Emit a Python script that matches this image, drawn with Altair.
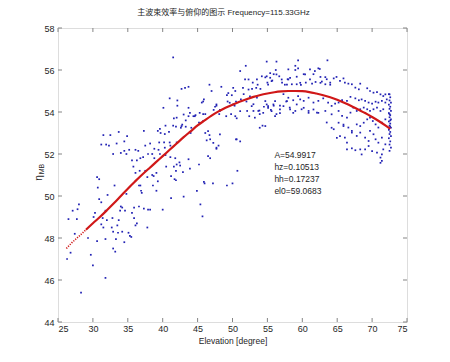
import altair as alt
import pandas as pd

# ---- scatter data (elevation [deg], main-beam efficiency) ----
el = [31.5, 32.5, 33.7, 34.9, 31.2, 31.9, 32.3, 33.4, 34.5, 32.9, 34.0, 34.5, 35.2, 34.8, 36.1, 37.3, 36.5, 37.5,
      38.2, 39.3, 39.6, 40.4, 41.5, 41.9, 39.7, 40.3, 40.9, 39.5, 40.2, 41.0, 38.8, 39.4, 40.3, 41.1, 42.0, 35.6,
      36.3, 35.8, 36.8, 37.2, 37.9, 38.5, 38.8, 39.6, 40.4, 41.1, 41.8, 36.1, 36.7, 37.5, 37.8, 38.5, 38.7, 39.1,
      39.3, 40.5, 41.6, 41.9, 41.2, 41.7, 30.6, 30.9, 30.7, 32.1, 33.1, 30.9, 31.2, 31.8, 34.8, 36.6, 36.8, 36.9,
      37.0, 38.6, 39.1, 41.2, 34.0, 33.9, 34.2, 34.6, 35.9, 36.6, 37.3, 38.2, 40.0, 26.5, 27.1, 27.7, 28.0, 30.3,
      30.1, 31.4, 31.2, 32.0, 32.8, 33.7, 32.7, 33.5, 36.1, 36.3, 35.9, 35.6, 37.8, 31.5, 29.3, 30.6, 32.9, 33.6,
      34.2, 35.1, 35.3, 35.5, 34.5, 33.3, 31.8, 27.4, 26.8, 26.3, 29.7, 30.0, 32.9, 33.2, 31.8, 28.3, 27.8,
      43.0, 44.9, 45.4, 45.7, 45.9, 47.2, 49.2, 50.0, 37.9, 40.1,
      41.5, 41.0, 42.1, 42.1, 41.6, 42.6, 42.8, 43.3, 43.3, 43.7, 44.1, 44.0, 42.7, 43.2, 43.7, 44.4, 44.7, 45.2,
      45.6, 45.9, 45.8, 46.1, 46.7, 47.0, 47.3, 47.5, 47.7, 48.1, 48.2, 48.4, 49.1, 49.3, 49.4, 49.8, 50.1, 50.3,
      50.5, 50.6, 51.1, 51.2, 51.5, 51.6, 51.8, 51.9, 52.3, 52.8, 52.5, 52.1, 52.4, 53.0, 53.4, 53.6, 53.9, 54.0,
      54.3, 54.5, 54.7, 54.9, 55.0, 55.1, 55.4, 55.5, 55.7, 55.9, 56.2, 56.3, 56.7, 56.1, 56.8, 57.1, 57.3, 57.8,
      58.0, 57.7, 56.8, 42.0, 42.4, 42.5, 41.9, 42.9, 43.7, 43.9, 45.2, 46.0, 46.1, 46.3, 46.7, 46.5, 46.8, 47.7,
      48.0, 50.5, 51.1, 50.7,
      49.2, 49.9, 50.4, 52.3, 52.9, 53.5, 54.2, 55.4, 55.9, 55.1, 47.7, 48.2, 49.6, 50.1, 52.0, 52.75, 53.5, 53.85,
      54.4, 54.9, 55.6, 56.1, 56.3, 45.8, 43.7, 43.9, 44.6, 43.0, 42.0, 42.7, 45.3, 45.8, 46.5, 46.8, 47.25, 47.7,
      48.2, 50.6, 50.4, 51.1, 53.2, 53.9, 54.7,
      58.0, 59.4, 59.2, 60.2, 61.1, 61.6, 62.3, 62.6, 57.9, 58.5, 59.2, 59.8, 60.5, 61.4, 61.9, 62.8, 63.3, 63.5,
      64.0, 64.5, 64.9, 65.4, 65.9, 66.1, 66.6, 67.1, 67.6, 68.1, 68.3, 69.3, 69.7, 70.2, 70.7, 71.2, 71.6, 71.9,
      72.1, 72.5, 58.0, 58.7, 59.4, 60.2, 60.9, 61.6, 62.3, 63.0, 63.7, 64.2, 64.7, 65.2, 65.7, 66.4, 66.9, 67.6,
      68.1, 68.5, 69.0, 69.5, 70.0, 70.5, 70.9, 71.4, 71.9, 58.2, 59.0, 59.9, 60.9, 62.1, 63.3, 64.2, 65.2, 65.7,
      66.4, 66.9, 67.3, 67.8, 68.3, 68.8, 69.3, 69.7, 70.2, 70.7, 71.2, 71.6, 65.2, 65.9, 66.6, 67.1, 67.8, 68.3,
      68.8, 69.3, 69.7, 70.1, 70.5, 70.9, 71.4, 71.9, 66.1, 66.4, 67.1, 67.8, 68.3, 69.0, 69.5, 69.7, 70.2, 70.5,
      70.9, 71.4, 71.9, 71.6, 71.2, 70.7, 70.0, 69.0, 68.3, 67.6, 67.1, 71.4, 69.5,
      59.4, 63.6, 59.0, 62.5, 64.5, 65.9,
      53.0, 53.7, 54.7, 55.1, 55.86, 56.8, 57.3, 57.8, 58.25, 58.7, 59.2, 59.7, 60.2, 60.9, 61.6, 62.3,
      54.9, 55.6, 56.3, 57.05, 57.5, 58.25, 59.0, 59.7, 60.4, 61.1, 61.8, 62.6, 63.3, 64.0,
      63.5, 64.2, 64.95, 65.4, 66.4, 68.5, 71.2, 71.4,
      72.4, 72.6, 72.5, 72.7, 72.4, 72.6, 72.5, 72.7, 72.4, 72.6, 72.5, 72.7, 72.4, 72.6, 72.5, 72.7, 72.4, 72.6,
      72.5, 72.7, 72.4, 72.6, 72.5, 72.7, 72.5, 72.6, 72.5, 72.6]
eta = [52.9, 52.9, 53.05, 52.85, 52.45, 52.45, 52.4, 52.5, 52.6, 52.0, 52.05, 52.15, 52.2, 52.0, 52.2, 53.1, 52.15,
       52.4, 52.5, 53.1, 53.2, 53.35, 53.35, 53.3, 53.0, 52.95, 53.05, 52.55, 52.55, 52.55, 52.25, 52.2, 52.3, 52.4,
       52.55, 51.7, 51.7, 51.4, 51.8, 51.85, 52.0, 52.0, 51.8, 52.0, 51.95, 51.85, 51.8, 51.1, 51.2, 51.2, 50.9,
       51.0, 50.95, 51.1, 50.7, 51.4, 51.4, 51.2, 50.95, 50.8, 50.9, 50.8, 50.4, 50.05, 50.5, 49.85, 49.7, 49.3,
       50.1, 50.5, 50.5, 50.25, 50.15, 50.5, 50.25, 49.9, 49.5, 49.3, 49.45, 49.3, 49.45, 49.5, 49.4, 49.35, 49.35,
       48.9, 49.3, 48.9, 49.6, 49.2, 49.0, 48.95, 48.65, 48.85, 48.95, 48.85, 48.5, 48.6, 48.6, 48.7, 48.95, 49.2,
       48.5, 48.5, 48.0, 47.85, 48.3, 48.25, 48.3, 48.25, 48.1, 48.05, 47.8, 47.95, 47.95, 48.2, 47.3, 47.0, 47.2,
       46.7, 47.5, 47.35, 46.1, 45.4, 49.37,
       49.97, 50.24, 49.6, 49.03, 50.67, 50.6, 50.5, 50.6, 49.35, 54.2,
       56.6, 54.65, 54.55, 54.3, 53.7, 53.25, 53.4, 53.3, 53.6, 53.8, 53.25, 53.0, 55.1, 55.15, 55.2, 53.8, 53.85,
       53.5, 54.45, 54.6, 53.9, 53.9, 55.3, 55.0, 54.1, 54.25, 54.3, 53.9, 54.05, 55.2, 53.8, 54.5, 54.9, 53.9,
       55.15, 54.3, 54.5, 53.7, 55.95, 54.6, 55.15, 54.85, 55.55, 56.2, 55.55, 55.1, 54.75, 54.05, 53.8, 54.05,
       55.15, 55.3, 53.9, 55.1, 53.35, 54.25, 55.65, 56.4, 55.4, 54.2, 55.85, 54.1, 55.5, 54.3, 56.0, 56.4, 55.7,
       53.8, 54.3, 55.4, 54.85, 55.3, 55.55, 54.5, 53.95, 51.5, 51.6, 51.45, 50.75, 51.14, 51.75, 51.3, 51.5, 50.6,
       53.0, 52.65, 52.9, 51.9, 51.8, 52.25, 52.4, 52.7, 52.6, 51.2,
       54.8, 54.8, 55.0, 55.07, 55.4, 55.55, 55.7, 55.63, 55.8, 55.3, 54.36, 54.1, 54.44, 54.36, 54.5, 54.28, 54.68,
       54.07, 53.96, 54.36, 54.04, 54.52, 53.9, 54.5, 54.2, 53.96, 53.8, 53.88, 53.73, 53.33, 53.96, 53.57, 53.09,
       52.7, 52.53, 52.3, 52.93, 52.7, 53.8, 54.04, 53.73, 53.25, 53.33,
       56.03, 56.08, 55.68, 55.8, 56.03, 55.8, 56.08, 55.67, 55.56, 55.32, 55.32, 55.29, 55.4, 55.35, 55.43, 55.45,
       55.32, 55.56, 55.4, 55.6, 55.67, 55.48, 55.6, 55.4, 55.35, 55.32, 55.16, 55.08, 55.35, 55.13, 55.0, 54.92,
       54.95, 54.84, 54.76, 54.84, 54.6, 54.84, 54.68, 54.56, 54.76, 54.53, 54.68, 54.45, 54.53, 54.65, 54.45,
       54.29, 54.4, 54.45, 54.56, 54.53, 54.72, 54.65, 54.56, 54.6, 54.53, 54.45, 54.4, 54.49, 54.45, 54.53, 54.45,
       54.21, 54.05, 54.13, 54.05, 53.97, 54.05, 53.89, 54.05, 53.81, 53.73, 53.97, 54.21, 54.05, 54.13, 54.21,
       54.13, 54.05, 54.13, 54.21, 54.05, 54.13, 53.49, 53.33, 53.26, 53.1, 53.41, 53.33, 53.49, 53.65, 53.73,
       53.57, 53.41, 53.26, 53.49, 53.65, 52.78, 52.54, 53.02, 52.86, 53.02, 52.78, 52.62, 53.1, 52.94, 52.7, 52.54,
       52.78, 52.46, 52.22, 51.83, 52.06, 52.14, 52.22, 52.22, 52.18, 52.27, 51.67, 52.38,
       56.46, 56.46, 56.2, 56.05, 53.18, 53.4,
       54.37, 54.05, 54.52, 54.28, 54.36, 54.12, 54.28, 54.52, 54.12, 53.96, 54.36, 54.6, 54.2, 53.96, 54.12, 53.96,
       55.7, 55.47, 55.79, 55.55, 55.3, 55.63, 56.0, 55.39, 55.79, 55.55, 55.95, 55.39, 55.66, 55.3,
       53.5, 53.25, 52.77, 52.85, 52.22, 51.98, 51.58, 51.98,
       54.85, 54.7, 54.55, 54.45, 54.35, 54.25, 54.15, 54.05, 53.95, 53.85, 53.75, 53.65, 53.55, 53.45, 53.35,
       53.25, 53.15, 53.05, 52.95, 52.85, 52.75, 52.6, 52.45, 52.3, 52.15, 53.6, 53.9, 53.3]

# ---- fitted curve ----
curve_el = [26.2, 27, 28, 29, 30, 31, 32, 33, 34, 35, 36, 37, 38, 39, 40, 41, 42, 43, 44, 45, 46, 47, 48, 49, 50,
            51, 52, 53, 54, 55, 56, 57, 58, 59, 60, 61, 62, 63, 64, 65, 66, 67, 68, 69, 70, 71, 72, 72.6]
curve_eta = [47.5, 47.78, 48.08, 48.39, 48.7, 49.0, 49.32, 49.65, 50.0, 50.35, 50.68, 51.0, 51.3, 51.6, 51.9, 52.2,
             52.5, 52.8, 53.08, 53.36, 53.6, 53.83, 54.03, 54.2, 54.35, 54.49, 54.61, 54.72, 54.81, 54.88, 54.94,
             54.98, 55.0, 55.0, 54.99, 54.95, 54.88, 54.8, 54.7, 54.58, 54.44, 54.29, 54.12, 53.95, 53.76, 53.56,
             53.34, 53.2]

x_ticks = [25, 30, 35, 40, 45, 50, 55, 60, 65, 70, 75]
y_ticks = [44, 46, 48, 50, 52, 54, 56, 58]

fit_labels = ["A=54.9917", "hz=0.10513", "hh=0.17237", "el0=59.0683"]
fit_label_el = [56.0, 56.0, 56.0, 56.0]
fit_label_eta = [51.95, 51.38, 50.81, 50.24]

title_text = "主波束效率与俯仰的图示 Frequency=115.33GHz"
x_title = "Elevation [degree]"

W, H = 349, 294
FONT = "Liberation Sans, Arial, Noto Sans CJK SC"
GRAY = "#858585"
TXT = "#262626"

pts_df = pd.DataFrame({"el": el, "eta": eta})
curve_df = pd.DataFrame({"el": curve_el, "eta": curve_eta})
xt_df = pd.DataFrame({"el": x_ticks})
yt_df = pd.DataFrame({"eta": y_ticks})
lab_df = pd.DataFrame({"el": fit_label_el, "eta": fit_label_eta, "t": fit_labels})

xs = alt.Scale(domain=[25, 75], nice=False, zero=False)
ys = alt.Scale(domain=[44, 58], nice=False, zero=False)
xax = alt.Axis(values=x_ticks, title=x_title, domain=False, ticks=False, grid=False,
               labelFontSize=9, labelFont=FONT, labelColor=TXT, labelPadding=2,
               titleFontSize=8.5, titleFont=FONT, titleColor=TXT, titleFontWeight="normal", titlePadding=3)
yax = alt.Axis(values=y_ticks, title=None, domain=False, ticks=False, grid=False,
               labelFontSize=9, labelFont=FONT, labelColor=TXT, labelPadding=4)

X = alt.X("el:Q", scale=xs, axis=xax)
Y = alt.Y("eta:Q", scale=ys, axis=yax)

points = alt.Chart(pts_df).mark_square(size=3, color="#2222b4", opacity=1).encode(x=X, y=Y)

curve_dot = alt.Chart(curve_df).transform_filter("datum.el <= 29").mark_line(
    color="#d01818", strokeWidth=1.6, strokeDash=[1.2, 1.3], interpolate="monotone").encode(x=X, y=Y)
curve_solid = alt.Chart(curve_df).transform_filter("datum.el >= 29").mark_line(
    color="#d01818", strokeWidth=2.2, interpolate="monotone").encode(x=X, y=Y)

tick_bottom = alt.Chart(xt_df).mark_rule(color=GRAY, strokeWidth=1).encode(
    x=X, y=alt.value(H), y2=alt.value(H - 4))
tick_top = alt.Chart(xt_df).mark_rule(color=GRAY, strokeWidth=1).encode(
    x=X, y=alt.value(0), y2=alt.value(4))
tick_left = alt.Chart(yt_df).mark_rule(color=GRAY, strokeWidth=1).encode(
    y=Y, x=alt.value(0), x2=alt.value(4))
tick_right = alt.Chart(yt_df).mark_rule(color=GRAY, strokeWidth=1).encode(
    y=Y, x=alt.value(W), x2=alt.value(W - 4))

labels = alt.Chart(lab_df).mark_text(align="left", baseline="middle", fontSize=8.5, font=FONT,
                                     color=TXT).encode(x=X, y=Y, text="t:N")

ylab_eta = alt.Chart(pd.DataFrame({"t": ["η"]})).mark_text(
    angle=270, fontSize=10, font=FONT, color=TXT, align="center", baseline="middle").encode(
    text="t:N", x=alt.value(-19), y=alt.value(150))
ylab_mb = alt.Chart(pd.DataFrame({"t": ["MB"]})).mark_text(
    angle=270, fontSize=7, font=FONT, color=TXT, align="center", baseline="middle").encode(
    text="t:N", x=alt.value(-16.5), y=alt.value(141))

chart = alt.layer(
    points, curve_dot, curve_solid, tick_bottom, tick_top, tick_left, tick_right, labels, ylab_eta, ylab_mb
).properties(
    width=W, height=H,
    title=alt.TitleParams(text=title_text, fontSize=8, font=FONT, fontWeight="normal", color=TXT,
                          anchor="middle", offset=7, dx=-9),
    autosize=alt.AutoSizeParams(type="none"),
    padding={"left": 50, "top": 20, "right": 35, "bottom": 32},
).configure_view(stroke=GRAY, strokeWidth=1).configure(background="white")

chart.save("out.html", embed_options={"renderer": "svg", "actions": False})
